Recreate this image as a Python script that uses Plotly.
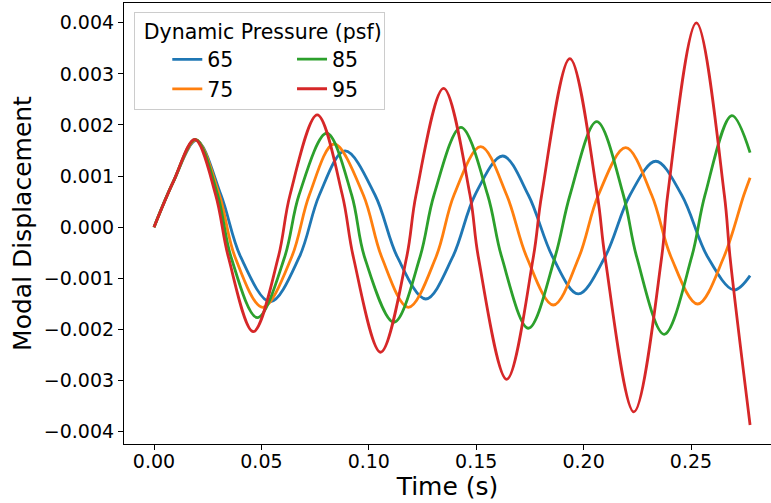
import plotly.graph_objects as go

# ---- data (values in units of 1e-3) ----
# peaks, troughs and the points where each curve crosses the +0.63 / -0.583 levels
series_names = ["65", "75", "85", "95"]
colors = ["#1f77b4", "#ff7f0e", "#2ca02c", "#d62728"]

t_65 = [0, 0.009, 0.0197, 0.03119, 0.04035, 0.0541, 0.06766, 0.07697, 0.0889,
        0.10289, 0.11329, 0.1265, 0.13905, 0.14944, 0.1623, 0.17427, 0.18560, 0.1975,
        0.20996, 0.22160, 0.2336, 0.24566, 0.25776, 0.2700, 0.2775]
v_65 = [0, 0.89, 1.70, 0.63, -0.583, -1.46, -0.583, 0.63, 1.493,
        0.63, -0.583, -1.405, -0.583, 0.63, 1.393, 0.63, -0.583, -1.307,
        -0.583, 0.63, 1.290, 0.63, -0.583, -1.229, -0.949]

t_75 = [0, 0.009, 0.0195, 0.03042, 0.03771, 0.0506, 0.06409, 0.07231, 0.0838,
        0.09746, 0.10599, 0.1184, 0.13128, 0.13966, 0.1521, 0.16418, 0.17349, 0.1859,
        0.19786, 0.20686, 0.2196, 0.23169, 0.24069, 0.2531, 0.2653, 0.2746, 0.2775]
v_75 = [0, 0.89, 1.71, 0.63, -0.583, -1.568, -0.583, 0.63, 1.628,
        0.63, -0.583, -1.568, -0.583, 0.63, 1.575, 0.63, -0.583, -1.523,
        -0.583, 0.63, 1.556, 0.63, -0.583, -1.503, -0.583, 0.63, 0.969]

t_85 = [0, 0.009, 0.0193, 0.02964, 0.03585, 0.0481, 0.06083, 0.06750, 0.0804,
        0.09202, 0.0980, 0.1117, 0.12384, 0.13035, 0.1429, 0.15534, 0.16186, 0.1743,
        0.18669, 0.19367, 0.2061, 0.21850, 0.22471, 0.2375, 0.25031, 0.25652, 0.2690, 0.2775]
v_85 = [0, 0.89, 1.72, 0.63, -0.583, -1.771, -0.583, 0.63, 1.838,
        0.63, -0.583, -1.861, -0.583, 0.63, 1.955, 0.63, -0.583, -1.978,
        -0.583, 0.63, 2.065, 0.63, -0.583, -2.096, -0.583, 0.63, 2.182, 1.458]

t_95 = [0, 0.009, 0.0190, 0.02871, 0.03461, 0.0462, 0.05788, 0.06331, 0.0760,
        0.08768, 0.09280, 0.1055, 0.11763, 0.12197, 0.1348, 0.14711, 0.15099, 0.1642,
        0.17660, 0.18048, 0.1936, 0.20639, 0.20996, 0.2234, 0.23635, 0.23914, 0.2525,
        0.26552, 0.26816, 0.2775]
v_95 = [0, 0.89, 1.72, 0.63, -0.583, -2.045, -0.583, 0.63, 2.196,
        0.63, -0.583, -2.448, -0.583, 0.63, 2.718, 0.63, -0.583, -2.977,
        -0.583, 0.63, 3.300, 0.63, -0.583, -3.616, -0.583, 0.63, 4.0,
        0.63, -0.583, -3.871]

SCALE = 1e-3
times = [t_65, t_75, t_85, t_95]
values = [[v * SCALE for v in vs] for vs in [v_65, v_75, v_85, v_95]]

x_tickvals = [0.00, 0.05, 0.10, 0.15, 0.20, 0.25]
x_ticktext = ["0.00", "0.05", "0.10", "0.15", "0.20", "0.25"]
y_tickvals = [0.004, 0.003, 0.002, 0.001, 0.0, -0.001, -0.002, -0.003, -0.004]
y_ticktext = ["0.004", "0.003", "0.002", "0.001", "0.000",
              "\u22120.001", "\u22120.002", "\u22120.003", "\u22120.004"]

FONT = "DejaVu Sans"
W, H = 771, 503
ML, MR, MT, MB = 124, 0, 3, 59

fig = go.Figure()
legend_of = {"65": "legend", "75": "legend", "85": "legend2", "95": "legend2"}
for name, col, tx, vy in zip(series_names, colors, times, values):
    fig.add_trace(go.Scatter(
        x=tx, y=vy, mode="lines", name=name,
        line=dict(color=col, width=2.8, shape="spline", smoothing=1.0),
        legend=legend_of[name],
    ))

axis_common = dict(
    showgrid=False, zeroline=False, showline=True, linecolor="black", linewidth=1.1,
    ticks="outside", ticklen=5, tickwidth=1.1, tickcolor="black",
    tickfont=dict(family=FONT, size=19, color="black"),
)

fig.update_layout(
    width=W, height=H,
    margin=dict(l=ML, r=MR, t=MT, b=MB),
    paper_bgcolor="white", plot_bgcolor="white",
    font=dict(family=FONT, color="black"),
    xaxis=dict(axis_common, range=[-0.01397, 0.28724], tickvals=x_tickvals, ticktext=x_ticktext,
               mirror=True, ticklabelstandoff=-5,
               title=dict(text="Time (s)", font=dict(family=FONT, size=25), standoff=5)),
    yaxis=dict(axis_common, range=[-0.004243, 0.004387], tickvals=y_tickvals, ticktext=y_ticktext,
               title=dict(text="Modal Displacement", font=dict(family=FONT, size=25), standoff=5)),
    legend=dict(
        x=0.0159, y=0.980, xanchor="left", yanchor="top",
        title=dict(text="\u00a0Dynamic Pressure (psf)", font=dict(family=FONT, size=20.5)),
        font=dict(family=FONT, size=20.5),
        bgcolor="rgba(255,255,255,0.8)", bordercolor="#cccccc", borderwidth=1,
        tracegroupgap=0, itemwidth=30, indentation=32,
    ),
    legend2=dict(
        x=0.2597, y=0.9177, xanchor="left", yanchor="top",
        font=dict(family=FONT, size=20.5),
        bgcolor="rgba(0,0,0,0)", borderwidth=0,
        tracegroupgap=0, itemwidth=30,
    ),
)

fig.write_html("out.html")
